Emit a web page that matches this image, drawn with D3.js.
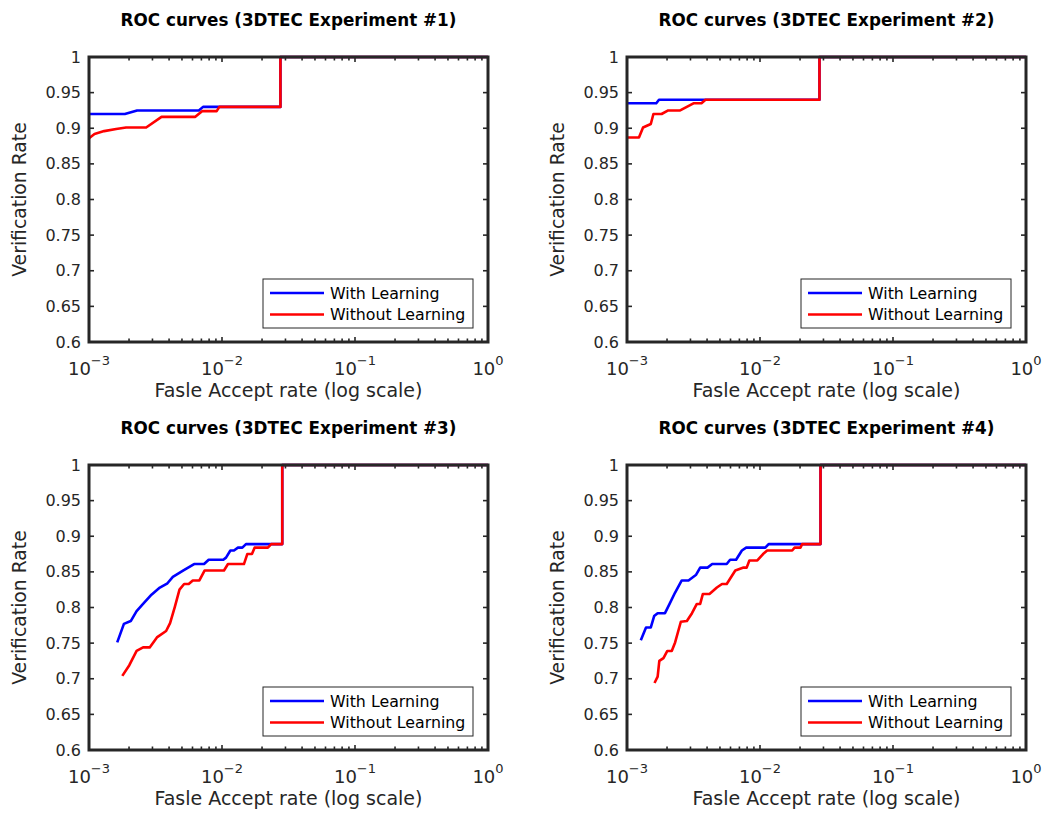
<!DOCTYPE html>
<html><head><meta charset="utf-8">
<script src="https://cdn.jsdelivr.net/npm/d3@7"></script>
<style>body{margin:0;background:#fff;} svg{display:block;}</style>
</head><body>
<svg id="chart" width="1044" height="813"></svg>
<script>
// ---- data (FAR, verification rate) ----
const titles = ["ROC curves (3DTEC Experiment #1)","ROC curves (3DTEC Experiment #2)","ROC curves (3DTEC Experiment #3)","ROC curves (3DTEC Experiment #4)"];
const seriesNames = ["With Learning","Without Learning"];
const yTicks = [0.6,0.65,0.7,0.75,0.8,0.85,0.9,0.95,1];
const yTickLabels = ["0.6","0.65","0.7","0.75","0.8","0.85","0.9","0.95","1"];
const xTicks = [1e-3,1e-2,1e-1,1];
const xTickExps = ["-3","-2","-1","0"];
const xLabel = "Fasle Accept rate (log scale)";
const yLabel = "Verification Rate";

const exp1With = [[0.001,0.92],[0.00186,0.92],[0.0023,0.925],[0.0067,0.925],[0.0072,0.93],[0.0275,0.93],[0.0275,1],[1,1]];
const exp1Without = [[0.001,0.886],[0.0011,0.892],[0.0013,0.896],[0.0016,0.899],[0.0019,0.901],[0.00269,0.901],[0.00351,0.916],[0.0063,0.916],[0.00708,0.924],[0.00912,0.924],[0.00955,0.93],[0.0275,0.93],[0.0275,1],[1,1]];

const exp2With = [[0.001,0.935],[0.00166,0.935],[0.00174,0.94],[0.004,0.94],[0.028,0.94],[0.028,1],[1,1]];
const exp2Without = [[0.001,0.887],[0.00123,0.887],[0.00132,0.901],[0.00151,0.906],[0.00158,0.92],[0.00182,0.92],[0.00204,0.925],[0.00251,0.925],[0.00316,0.935],[0.00363,0.935],[0.00389,0.94],[0.028,0.94],[0.028,1],[1,1]];

const exp3With = [[0.00163,0.751],[0.00183,0.777],[0.00206,0.781],[0.00228,0.795],[0.00255,0.805],[0.00295,0.818],[0.00341,0.828],[0.00389,0.834],[0.00427,0.843],[0.00513,0.852],[0.00617,0.861],[0.00733,0.861],[0.00794,0.867],[0.01023,0.867],[0.01072,0.870],[0.01156,0.880],[0.0123,0.880],[0.01318,0.884],[0.01422,0.884],[0.01514,0.889],[0.02838,0.889],[0.02838,1],[1,1]];
const exp3Without = [[0.00178,0.704],[0.00201,0.719],[0.00228,0.739],[0.00255,0.744],[0.00286,0.744],[0.00324,0.758],[0.0038,0.767],[0.00407,0.778],[0.00442,0.801],[0.00479,0.825],[0.00519,0.833],[0.00562,0.833],[0.00603,0.838],[0.00676,0.838],[0.00741,0.852],[0.01035,0.852],[0.01109,0.861],[0.01462,0.861],[0.01549,0.875],[0.01679,0.875],[0.01758,0.884],[0.02213,0.884],[0.02344,0.889],[0.02838,0.889],[0.02838,1],[1,1]];

const exp4With = [[0.00127,0.754],[0.00139,0.772],[0.00151,0.772],[0.0016,0.788],[0.0017,0.792],[0.00193,0.792],[0.00209,0.805],[0.0023,0.821],[0.00258,0.838],[0.0029,0.838],[0.00331,0.846],[0.00355,0.856],[0.00403,0.856],[0.00437,0.861],[0.00562,0.861],[0.00596,0.867],[0.00661,0.867],[0.00731,0.880],[0.00787,0.884],[0.01096,0.884],[0.01161,0.889],[0.02851,0.889],[0.02851,1],[1,1]];
const exp4Without = [[0.00161,0.694],[0.0017,0.703],[0.00175,0.725],[0.00188,0.729],[0.00201,0.739],[0.00217,0.739],[0.0023,0.751],[0.00254,0.780],[0.00282,0.781],[0.00308,0.792],[0.00335,0.805],[0.00355,0.805],[0.00372,0.819],[0.00417,0.819],[0.00474,0.828],[0.00518,0.833],[0.00562,0.833],[0.00652,0.852],[0.00752,0.856],[0.00794,0.856],[0.00832,0.866],[0.00955,0.866],[0.01054,0.875],[0.01132,0.880],[0.01746,0.880],[0.0182,0.884],[0.02014,0.884],[0.02075,0.889],[0.02851,0.889],[0.02851,1],[1,1]];

const panels = [
  {title: titles[0], with: exp1With, without: exp1Without, left: 89, top: 57},
  {title: titles[1], with: exp2With, without: exp2Without, left: 627, top: 57},
  {title: titles[2], with: exp3With, without: exp3Without, left: 89, top: 465},
  {title: titles[3], with: exp4With, without: exp4Without, left: 627, top: 465}
];
const W = 399, H = 285;
const colors = ["#0000ff","#ff0000"];
const axisColor = "#262626";
const font = "'DejaVu Sans', Verdana, sans-serif";

const svg = d3.select("#chart");

panels.forEach(p => {
  const g = svg.append("g").attr("transform", `translate(${p.left},${p.top})`);
  const x = d3.scaleLog().domain([1e-3, 1]).range([0, W]);
  const y = d3.scaleLinear().domain([0.6, 1]).range([H, 0]);

  // lines
  const line = d3.line().x(d => x(d[0])).y(d => y(d[1]));
  [p.with, p.without].forEach((data, i) => {
    g.append("path").datum(data).attr("d", line)
      .attr("fill", "none").attr("stroke", colors[i]).attr("stroke-width", 2.6)
      .attr("stroke-linejoin", "round");
  });

  // minor / major ticks on x (top and bottom, inward)
  const minor = [];
  for (let e = -3; e < 0; e++) for (let k = 2; k <= 9; k++) minor.push(k * Math.pow(10, e));
  const tickG = g.append("g").attr("stroke", axisColor);
  minor.forEach(v => {
    tickG.append("line").attr("x1", x(v)).attr("x2", x(v)).attr("y1", H).attr("y2", H - 3.5).attr("stroke-width", 1.6);
    tickG.append("line").attr("x1", x(v)).attr("x2", x(v)).attr("y1", 0).attr("y2", 3.5).attr("stroke-width", 1.6);
  });
  xTicks.forEach(v => {
    tickG.append("line").attr("x1", x(v)).attr("x2", x(v)).attr("y1", H).attr("y2", H - 5).attr("stroke-width", 1.6);
    tickG.append("line").attr("x1", x(v)).attr("x2", x(v)).attr("y1", 0).attr("y2", 5).attr("stroke-width", 1.6);
  });
  yTicks.forEach(v => {
    tickG.append("line").attr("x1", 0).attr("x2", 5).attr("y1", y(v)).attr("y2", y(v)).attr("stroke-width", 1.6);
    tickG.append("line").attr("x1", W).attr("x2", W - 5).attr("y1", y(v)).attr("y2", y(v)).attr("stroke-width", 1.6);
  });

  // box
  g.append("rect").attr("x", 0).attr("y", 0).attr("width", W).attr("height", H)
    .attr("fill", "none").attr("stroke", axisColor).attr("stroke-width", 3);

  // y tick labels
  yTicks.forEach((v, i) => {
    g.append("text").attr("x", -8).attr("y", y(v)).attr("dy", "0.35em")
      .attr("text-anchor", "end").attr("font-family", font).attr("font-size", 16)
      .attr("fill", axisColor).text(yTickLabels[i]);
  });
  // x tick labels 10^e
  xTicks.forEach((v, i) => {
    const t = g.append("text").attr("x", x(v)).attr("y", H + 33)
      .attr("text-anchor", "middle").attr("font-family", font).attr("font-size", 18)
      .attr("fill", axisColor);
    t.append("tspan").text("10");
    t.append("tspan").attr("dy", -10).attr("font-size", 13).text(xTickExps[i].replace("-", "\u2212"));
  });

  // axis labels
  g.append("text").attr("x", W / 2).attr("y", H + 55).attr("text-anchor", "middle")
    .attr("font-family", font).attr("font-size", 19).attr("fill", axisColor).text(xLabel);
  g.append("text").attr("transform", `translate(${-63},${H / 2}) rotate(-90)`)
    .attr("text-anchor", "middle").attr("font-family", font).attr("font-size", 18.8)
    .attr("fill", axisColor).text(yLabel);

  // title
  g.append("text").attr("x", W / 2).attr("y", -31).attr("text-anchor", "middle")
    .attr("font-family", font).attr("font-weight", "bold").attr("font-size", 16.8)
    .attr("fill", "#000").text(p.title);

  // legend
  const lw = 210, lh = 49;
  const lg = g.append("g").attr("transform", `translate(${W - 15 - lw},${H - 14 - lh})`);
  lg.append("rect").attr("width", lw).attr("height", lh).attr("fill", "#fff")
    .attr("stroke", axisColor).attr("stroke-width", 1);
  seriesNames.forEach((n, i) => {
    const yy = 14 + i * 21.5;
    lg.append("line").attr("x1", 7).attr("x2", 61).attr("y1", yy).attr("y2", yy)
      .attr("stroke", colors[i]).attr("stroke-width", 2.6);
    lg.append("text").attr("x", 67).attr("y", yy).attr("dy", "0.35em")
      .attr("font-family", font).attr("font-size", 15.8).attr("fill", "#000").text(n);
  });
});
</script>
</body></html>
